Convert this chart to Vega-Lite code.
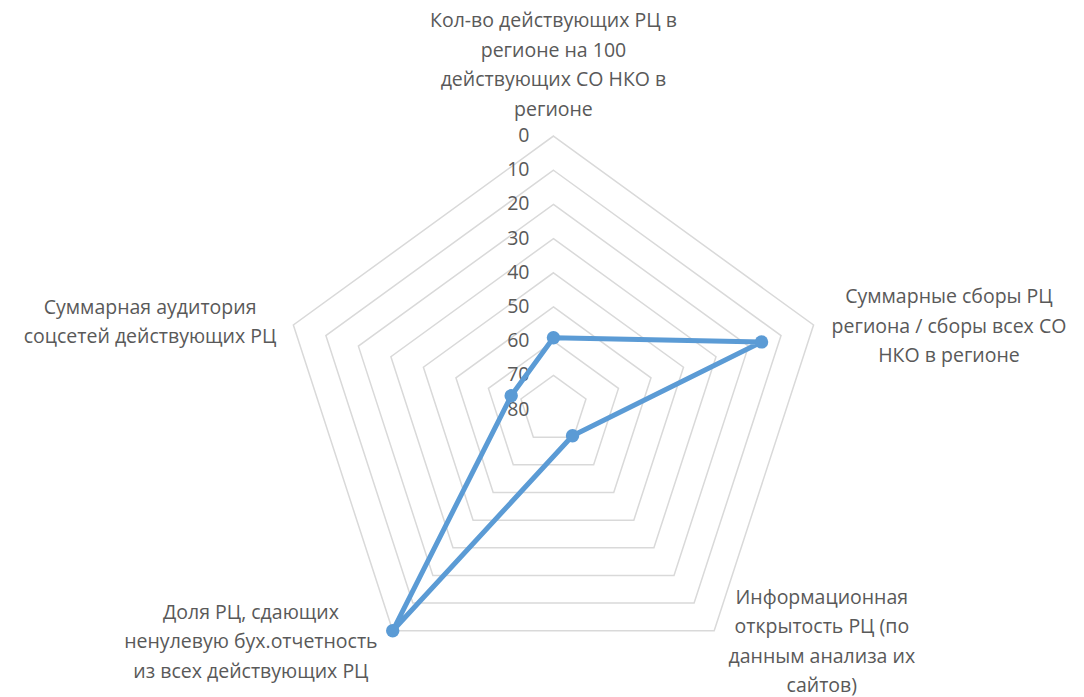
{
  "$schema": "https://vega.github.io/schema/vega-lite/v6.json",
  "width": 1084,
  "height": 697,
  "autosize": {"type": "none"},
  "padding": 0,
  "background": "white",
  "config": {"view": {"stroke": null}},
  "datasets": {
    "series": [
      {"k": 0, "axis": "Кол-во действующих РЦ в регионе на 100 действующих СО НКО в регионе", "value": 59},
      {"k": 1, "axis": "Суммарные сборы РЦ региона / сборы всех СО НКО в регионе", "value": 16},
      {"k": 2, "axis": "Информационная открытость РЦ (по данным анализа их сайтов)", "value": 70.5},
      {"k": 3, "axis": "Доля РЦ, сдающих ненулевую бух.отчетность из всех действующих РЦ", "value": 0},
      {"k": 4, "axis": "Суммарная аудитория соцсетей действующих РЦ", "value": 67}
    ],
    "grid": [
      {"k": 0, "levels": [0, 10, 20, 30, 40, 50, 60, 70]},
      {"k": 1, "levels": [0, 10, 20, 30, 40, 50, 60, 70]},
      {"k": 2, "levels": [0, 10, 20, 30, 40, 50, 60, 70]},
      {"k": 3, "levels": [0, 10, 20, 30, 40, 50, 60, 70]},
      {"k": 4, "levels": [0, 10, 20, 30, 40, 50, 60, 70]}
    ],
    "ticks": [
      {"value": 0}, {"value": 10}, {"value": 20}, {"value": 30}, {"value": 40},
      {"value": 50}, {"value": 60}, {"value": 70}, {"value": 80}
    ],
    "labels": [
      {"k": 0, "label": "Кол-во действующих РЦ в\nрегионе на 100\nдействующих СО НКО в\nрегионе"},
      {"k": 1, "label": "Суммарные сборы РЦ\nрегиона / сборы всех СО\nНКО в регионе"},
      {"k": 2, "label": "Информационная\nоткрытость РЦ (по\nданным анализа их\nсайтов)"},
      {"k": 3, "label": "Доля РЦ, сдающих\nненулевую бух.отчетность\nиз всех действующих РЦ"},
      {"k": 4, "label": "Суммарная аудитория\nсоцсетей действующих РЦ"}
    ]
  },
  "resolve": {"scale": {"x": "shared", "y": "shared"}},
  "layer": [
    {
      "data": {"name": "grid"},
      "transform": [
        {"flatten": ["levels"], "as": ["level"]},
        {"calculate": "80 - datum.level", "as": "r"},
        {"calculate": "datum.k * 2 * PI / 5", "as": "theta"},
        {"calculate": "datum.r * sin(datum.theta)", "as": "px"},
        {"calculate": "datum.r * cos(datum.theta)", "as": "py"}
      ],
      "mark": {"type": "line", "interpolate": "linear-closed", "color": "#d9d9d9", "strokeWidth": 1.5},
      "encoding": {
        "x": {"field": "px", "type": "quantitative", "scale": {"domain": [-161.9, 155.2], "nice": false, "zero": false}, "axis": null},
        "y": {"field": "py", "type": "quantitative", "scale": {"domain": [-84.1, 119.8], "nice": false, "zero": false}, "axis": null},
        "detail": {"field": "level", "type": "nominal"},
        "order": {"field": "k", "type": "quantitative"}
      }
    },
    {
      "data": {"name": "ticks"},
      "transform": [
        {"calculate": "0", "as": "px"},
        {"calculate": "80 - datum.value", "as": "py"}
      ],
      "mark": {"type": "text", "align": "right", "baseline": "middle", "dx": -24, "font": "Open Sans", "fontSize": 19.5, "color": "#595959"},
      "encoding": {
        "x": {"field": "px", "type": "quantitative"},
        "y": {"field": "py", "type": "quantitative"},
        "text": {"field": "value", "type": "quantitative"}
      }
    },
    {
      "data": {"name": "series"},
      "transform": [
        {"calculate": "80 - datum.value", "as": "r"},
        {"calculate": "datum.k * 2 * PI / 5", "as": "theta"},
        {"calculate": "datum.r * sin(datum.theta)", "as": "px"},
        {"calculate": "datum.r * cos(datum.theta)", "as": "py"}
      ],
      "mark": {"type": "line", "interpolate": "linear-closed", "color": "#5b9bd5", "strokeWidth": 5, "strokeJoin": "round"},
      "encoding": {
        "x": {"field": "px", "type": "quantitative"},
        "y": {"field": "py", "type": "quantitative"},
        "order": {"field": "k", "type": "quantitative"}
      }
    },
    {
      "data": {"name": "series"},
      "transform": [
        {"calculate": "80 - datum.value", "as": "r"},
        {"calculate": "datum.k * 2 * PI / 5", "as": "theta"},
        {"calculate": "datum.r * sin(datum.theta)", "as": "px"},
        {"calculate": "datum.r * cos(datum.theta)", "as": "py"}
      ],
      "mark": {"type": "point", "filled": true, "opacity": 1, "size": 180, "color": "#5b9bd5"},
      "encoding": {
        "x": {"field": "px", "type": "quantitative"},
        "y": {"field": "py", "type": "quantitative"},
        "tooltip": [{"field": "axis"}, {"field": "value"}]
      }
    },
    {
      "data": {"name": "labels"},
      "transform": [
        {"calculate": "[0, 115.7, 78.5, -88.5, -118.0][datum.k]", "as": "px"},
        {"calculate": "[113.6, 32.9, -55.1, -59.5, 29.7][datum.k]", "as": "py"}
      ],
      "mark": {"type": "text", "align": "center", "baseline": "middle", "lineBreak": "\n", "lineHeight": 29.5, "font": "Open Sans", "fontSize": 19.5, "color": "#595959"},
      "encoding": {
        "x": {"field": "px", "type": "quantitative"},
        "y": {"field": "py", "type": "quantitative"},
        "text": {"field": "label", "type": "nominal"}
      }
    }
  ]
}
